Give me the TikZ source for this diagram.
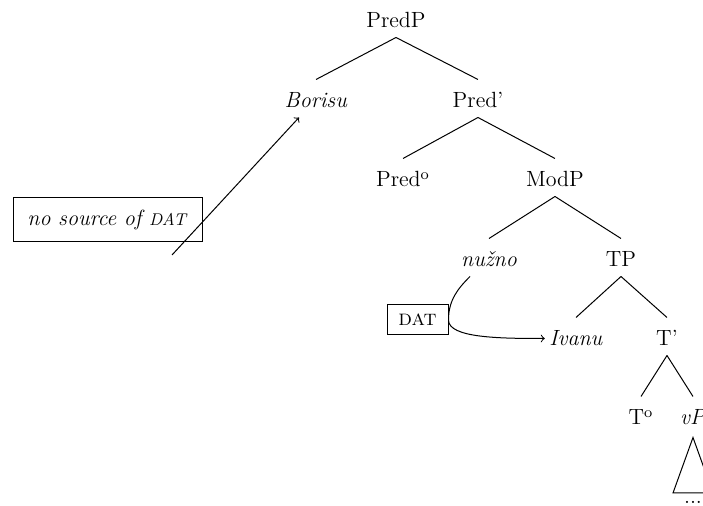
\documentclass[tikz,border=0pt]{standalone}
\usepackage{fontspec}
\begin{document}
\begin{tikzpicture}[x=0.5pt,y=-0.5pt,line width=0.5pt,
  every node/.style={font=\fontsize{11}{13}\selectfont},
  cat/.style={anchor=base,inner xsep=2pt,inner ysep=2.5pt,text height=11.5pt,text depth=2pt},
  branch/.style={draw},
  boxed/.style={draw,inner sep=0pt},
  move/.style={->,>=to}]
\useasboundingbox (0,0) rectangle (703,506);

% tree nodes, placed by their baselines
\node[cat] (predp)    at (396,28)  {PredP};
\node[cat] (borisu)   at (316,108) {\textit{Borisu}};
\node[cat] (predbar)  at (478,108) {Pred’};
\node[cat] (predhead) at (403,187) {Pred\textsuperscript{o}};
\node[cat] (modp)     at (555,187) {ModP};
\node[cat] (nuzno)    at (489,267) {\textit{nužno}};
\node[cat] (tp)       at (621,267) {TP};
\node[cat] (ivanu)    at (576,346) {\textit{Ivanu}};
\node[cat] (tbar)     at (667,346) {T’};
\node[cat] (thead)    at (641,425) {T\textsuperscript{o}};
\node[cat] (vp)       at (693,425) {\textit{vP}};
\node[anchor=base,inner sep=0pt] (dots) at (693,504) {...};

% branches
\draw[branch] (predp.south) -- (borisu.north);
\draw[branch] (predp.south) -- (predbar.north);
\draw[branch] (predbar.south) -- (predhead.north);
\draw[branch] (predbar.south) -- (modp.north);
\draw[branch] (modp.south) -- (nuzno.north);
\draw[branch] (modp.south) -- (tp.north);
\draw[branch] (tp.south) -- (ivanu.north);
\draw[branch] (tp.south) -- (tbar.north);
\draw[branch] (tbar.south) -- (thead.north);
\draw[branch] (tbar.south) -- (vp.north);

% roof over vP
\coordinate (roofl) at (673,493);
\coordinate (roofr) at (713,493);
\draw[branch] ([yshift=-1.5pt]vp.south) -- (roofl) -- (roofr) -- cycle;

% annotation boxes
\node[boxed,minimum width=94.5pt,minimum height=22pt] (nosrc) at (107.5,220)
  {\textit{no source of {\fontsize{8.5}{10}\selectfont DAT}}};
\node[boxed,minimum width=30.5pt,minimum height=15pt] (dat) at (417.5,320)
  {\textsc{dat}};

% movement arrows
\coordinate (movestart) at (172,255);
\draw[move] (movestart) -- ([xshift=-8.5pt]borisu.south);
\draw[move] ([xshift=-9.5pt]nuzno.south)
  .. controls +(-12,12) and +(0,-20) .. (dat.east)
  .. controls +(0,18) and +(-45,0) .. ([yshift=-1pt]ivanu.west);
\end{tikzpicture}
\end{document}
